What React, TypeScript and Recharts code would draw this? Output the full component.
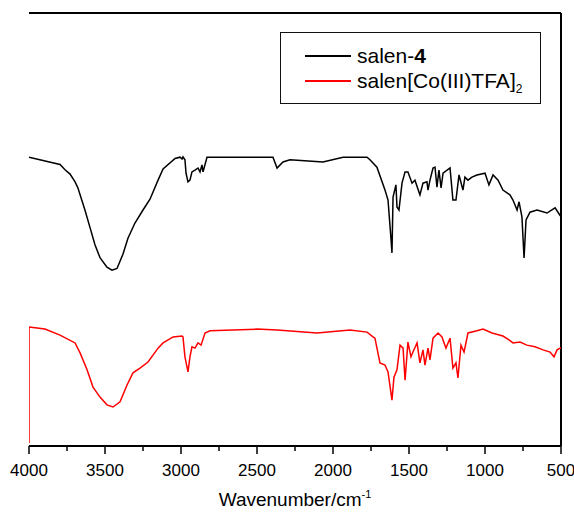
import { LineChart, Line, XAxis, YAxis, Legend, ReferenceLine } from 'recharts';

const W = 574;
const H = 513;
const FONT = "Arial, 'Liberation Sans', sans-serif";

// wavenumber (cm-1), transmittance (arbitrary %, offset spectra)
const salen4Spectrum = [
  [4000, 66.7], [3796, 65.0], [3763, 63.8], [3730, 62.8], [3697, 61.0], [3678, 59.6],
  [3632, 54.5], [3599, 50.5], [3566, 46.5], [3533, 43.5], [3487, 41.3], [3454, 40.6],
  [3421, 41.0], [3382, 44.3], [3349, 48.0], [3303, 51.5], [3250, 54.5], [3204, 57.0],
  [3151, 61.4], [3118, 64.0], [3039, 66.4], [3007, 66.7], [2993, 66.3], [2987, 66.8],
  [2974, 66.1], [2967, 63.0], [2954, 61.0], [2941, 61.4], [2928, 63.3], [2908, 63.7],
  [2888, 64.2], [2875, 63.3], [2862, 64.9], [2855, 63.3], [2829, 66.7], [2395, 66.7],
  [2368, 64.2], [2329, 65.6], [2283, 66.1], [2066, 65.6], [1934, 66.7], [1776, 66.7],
  [1757, 66.1], [1711, 64.4], [1658, 59.1], [1638, 56.8], [1618, 47.6], [1612, 44.6],
  [1605, 57.5], [1586, 60.3], [1579, 55.2], [1566, 54.5], [1546, 60.7], [1526, 63.3],
  [1507, 63.3], [1480, 60.7], [1461, 61.4], [1428, 58.0], [1408, 60.7], [1382, 61.0],
  [1375, 59.1], [1362, 61.4], [1342, 64.2], [1329, 64.4], [1316, 59.8], [1303, 63.7],
  [1289, 59.6], [1276, 63.0], [1230, 64.2], [1211, 56.8], [1191, 56.8], [1171, 62.6],
  [1145, 59.1], [1132, 62.1], [1112, 61.4], [1086, 62.1], [1053, 62.6], [1000, 63.0],
  [974, 60.3], [947, 62.6], [914, 61.4], [882, 59.1], [836, 58.0], [816, 56.8],
  [789, 54.5], [776, 56.4], [757, 52.9], [743, 43.4], [730, 52.2], [704, 54.0],
  [658, 54.5], [592, 53.8], [539, 55.0], [507, 53.3], [500, 53.0],
];

const coTfaSpectrum = [
  [4000, 0.7], [4000, 27.5], [3895, 27.0], [3796, 25.6], [3697, 23.8], [3664, 21.5],
  [3618, 17.6], [3579, 13.6], [3533, 11.3], [3487, 9.5], [3447, 9.0], [3401, 10.2],
  [3355, 14.1], [3316, 16.9], [3270, 18.0], [3217, 19.4], [3151, 22.6], [3118, 23.8],
  [3052, 25.2], [2993, 25.4], [2987, 25.2], [2974, 20.6], [2954, 17.1], [2941, 20.6],
  [2928, 22.9], [2908, 22.6], [2888, 23.8], [2868, 23.3], [2842, 26.1], [2809, 26.6],
  [2500, 27.0], [2368, 26.8], [2105, 26.1], [1888, 26.8], [1776, 26.3], [1737, 25.2],
  [1724, 24.9], [1691, 19.2], [1658, 18.7], [1638, 17.1], [1612, 10.6], [1599, 15.9],
  [1579, 17.6], [1559, 23.3], [1539, 22.6], [1526, 15.2], [1507, 24.0], [1487, 20.6],
  [1474, 21.7], [1447, 23.8], [1428, 19.2], [1408, 22.2], [1395, 18.7], [1375, 22.6],
  [1362, 19.9], [1342, 24.9], [1309, 26.1], [1283, 25.2], [1257, 22.6], [1230, 24.9],
  [1211, 18.0], [1191, 19.2], [1178, 15.7], [1158, 23.3], [1138, 21.7], [1112, 26.1],
  [1053, 26.6], [1013, 27.0], [954, 26.1], [882, 25.4], [842, 24.5], [816, 23.8],
  [770, 24.0], [724, 23.3], [671, 22.9], [618, 22.2], [572, 21.7], [546, 20.6],
  [526, 22.2], [507, 22.6], [500, 22.6],
];

const seriesNames = ['salen-4', 'salen[Co(III)TFA]2'];
const seriesColors = ['#000000', '#ff0000'];

const majorTicks = [4000, 3500, 3000, 2500, 2000, 1500, 1000, 500];
const allTicks = [4000, 3750, 3500, 3250, 3000, 2750, 2500, 2250, 2000, 1750, 1500, 1250, 1000, 750, 500];

const toRows = (pairs: number[][]) => pairs.map(([wn, t]) => ({ wn, t }));

function WnTick({ x, y, payload }: any) {
  const major = majorTicks.includes(payload.value);
  return (
    <g>
      <line x1={x} y1={y} x2={x} y2={y + (major ? 8 : 5)} stroke="#000" strokeWidth={1.5} />
      {major && (
        <text x={x} y={y + 30} textAnchor="middle" fontSize={17} fontFamily={FONT} fill="#000">
          {payload.value}
        </text>
      )}
    </g>
  );
}

function AxisTitle({ viewBox }: any) {
  const { x, y, width } = viewBox;
  return (
    <text x={x + width / 2} y={y + 60} textAnchor="middle" fontSize={19} fontFamily={FONT} fill="#000">
      Wavenumber/cm
      <tspan dy={-8} fontSize={11}>-1</tspan>
    </text>
  );
}

function LegendLabel({ index }: { index: number }) {
  if (index === 0) {
    return (
      <span>
        salen-<b>4</b>
      </span>
    );
  }
  return (
    <span>
      salen[Co(III)TFA]<sub style={{ fontSize: 12, verticalAlign: -5, lineHeight: 0 }}>2</sub>
    </span>
  );
}

function LegendBox() {
  return (
    <div
      style={{
        width: 261,
        height: 72,
        boxSizing: 'border-box',
        border: '1.5px solid #111',
        background: '#fff',
        position: 'relative',
        fontFamily: FONT,
        fontSize: 21,
        color: '#000',
      }}
    >
      {seriesNames.map((name, i) => (
        <div
          key={name}
          style={{
            position: 'absolute',
            left: 24,
            top: 11 + i * 25,
            height: 24,
            display: 'flex',
            alignItems: 'center',
            whiteSpace: 'nowrap',
          }}
        >
          <span style={{ display: 'inline-block', width: 46, height: 1.5, background: seriesColors[i] }} />
          <span style={{ marginLeft: 6, lineHeight: '24px', height: 24 }}>
            <LegendLabel index={i} />
          </span>
        </div>
      ))}
    </div>
  );
}

export default function App() {
  return (
    <div style={{ position: 'fixed', left: 0, top: 0, width: W, height: H, background: '#fff' }}>
      <LineChart width={W} height={H} margin={{ top: 13, right: 13, bottom: 7, left: 29 }}>
        <XAxis
          xAxisId="wn"
          dataKey="wn"
          type="number"
          domain={[500, 4000]}
          reversed
          allowDataOverflow
          ticks={allTicks}
          interval={0}
          tickSize={0}
          tickMargin={0}
          tick={<WnTick />}
          height={60}
          axisLine={{ stroke: '#000', strokeWidth: 2 }}
          label={<AxisTitle />}
        />
        <YAxis yAxisId="t" domain={[0, 100]} width={0} tick={false} axisLine={{ stroke: '#000', strokeWidth: 2 }} />
        <ReferenceLine xAxisId="wn" yAxisId="t" y={100} stroke="#000" strokeWidth={2} />
        <ReferenceLine xAxisId="wn" yAxisId="t" x={500} stroke="#000" strokeWidth={2} />
        <Legend
          layout="vertical"
          align="center"
          verticalAlign="middle"
          wrapperStyle={{ left: 280, top: 32, width: 261 }}
          content={<LegendBox />}
        />
        <Line
          xAxisId="wn"
          yAxisId="t"
          data={toRows(salen4Spectrum)}
          dataKey="t"
          name={seriesNames[0]}
          stroke={seriesColors[0]}
          strokeWidth={1.5}
          dot={false}
          type="linear"
          isAnimationActive={false}
        />
        <Line
          xAxisId="wn"
          yAxisId="t"
          data={toRows(coTfaSpectrum)}
          dataKey="t"
          name={seriesNames[1]}
          stroke={seriesColors[1]}
          strokeWidth={1.5}
          dot={false}
          type="linear"
          isAnimationActive={false}
        />
      </LineChart>
    </div>
  );
}
